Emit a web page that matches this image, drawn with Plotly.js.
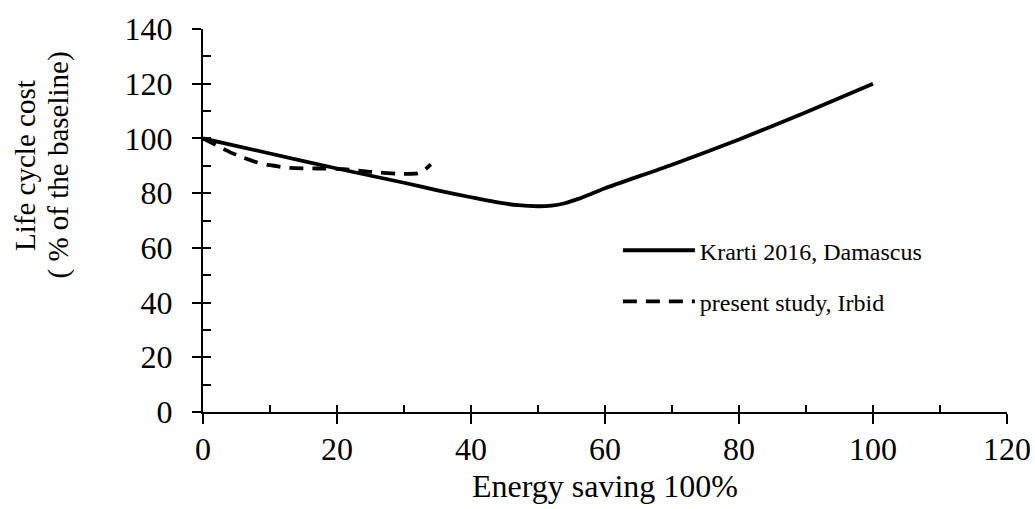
<!DOCTYPE html>
<html>
<head>
<meta charset="utf-8">
<script src="https://cdn.plot.ly/plotly-3.0.1.min.js"></script>
<style>html,body{margin:0;padding:0;background:#fff}</style>
</head>
<body>
<div id="chart" style="width:1035px;height:509px"></div>
<script>
// Krarti 2016, Damascus: life cycle cost vs energy saving
const krartiSaving = [0, 10, 20, 30, 35, 40, 44, 47, 50, 52, 54, 56, 58, 60, 70, 80, 90, 100];
const krartiCost   = [100, 94.5, 89, 83.8, 81, 78.5, 76.6, 75.6, 75.2, 75.4, 76.3, 77.9, 79.8, 81.8, 90.4, 99.6, 109.6, 120];

// Present study, Irbid
const irbidSaving = [0, 2, 4, 6, 8, 10, 13, 17, 21, 25, 29, 32, 33, 34];
const irbidCost   = [100, 97.5, 95, 93, 91.3, 90.2, 89.2, 89, 88.8, 87.8, 87.1, 87.2, 88.3, 90.5];

// Axis ticks
const xMajor = [0, 20, 40, 60, 80, 100, 120];
const xMinor = [10, 30, 50, 70, 90, 110];
const yMajor = [0, 20, 40, 60, 80, 100, 120, 140];
const yMinor = [10, 30, 50, 70, 90, 110, 130];

const seriesNames = ['Krarti 2016, Damascus', 'present study, Irbid'];
const xTitle = 'Energy saving 100%';
const yTitleLines = ['Life cycle cost', '( % of the baseline)'];

const FONT = '"Liberation Serif", "Times New Roman", Times, serif';

// invisible anchor point so an overlay axis is laid out and drawn
const axisHelper = (xa, ya) => ({
  x: [0], y: [0], xaxis: xa, yaxis: ya, mode: 'markers',
  marker: {opacity: 0, size: 1}, showlegend: false, hoverinfo: 'skip'
});

const traces = [
  {
    x: krartiSaving, y: krartiCost, name: seriesNames[0],
    mode: 'lines', legendgroup: 'a',
    line: {color: '#000', width: 3.8, shape: 'spline', smoothing: 0.6}
  },
  {
    x: irbidSaving, y: irbidCost, name: seriesNames[1],
    mode: 'lines', legendgroup: 'b',
    line: {color: '#000', width: 3.8, dash: '14px,9px', shape: 'spline', smoothing: 0.5}
  },
  axisHelper('x2', 'y'),
  axisHelper('x', 'y2')
];

const axisBase = {
  showgrid: false, zeroline: false,
  tickcolor: '#000', tickwidth: 2, fixedrange: true
};

const layout = {
  width: 1035, height: 509,
  margin: {l: 203, r: 28, t: 29, b: 97},
  paper_bgcolor: '#fff', plot_bgcolor: '#fff',
  font: {family: FONT, color: '#000', size: 32},
  showlegend: true,
  legend: {
    x: 0.516, y: 0.48, xanchor: 'left', yanchor: 'top',
    font: {family: FONT, size: 24, color: '#000'},
    bgcolor: 'rgba(0,0,0,0)', itemwidth: 72,
    tracegroupgap: 17, traceorder: 'grouped'
  },
  xaxis: Object.assign({}, axisBase, {
    range: [0, 120], tickvals: xMajor,
    showline: true, linecolor: '#000', linewidth: 2,
    ticks: 'outside', ticklen: 10,
    minor: {tickvals: xMinor, ticks: 'inside', ticklen: 7, tickwidth: 2, tickcolor: '#000'},
    tickfont: {family: FONT, size: 32},
    ticklabelstandoff: -2,
    title: {text: xTitle, font: {family: FONT, size: 32}, standoff: 8}
  }),
  xaxis2: Object.assign({}, axisBase, {
    overlaying: 'x', anchor: 'y', range: [0, 120], tickvals: xMajor,
    ticks: 'inside', ticklen: 7, showticklabels: false, showline: false
  }),
  yaxis: Object.assign({}, axisBase, {
    range: [0, 140], tickvals: yMajor,
    showline: true, linecolor: '#000', linewidth: 2,
    ticks: 'outside', ticklen: 9,
    minor: {tickvals: yMinor, ticks: 'inside', ticklen: 8, tickwidth: 2, tickcolor: '#000'},
    tickfont: {family: FONT, size: 32},
    ticklabelstandoff: 13
  }),
  yaxis2: Object.assign({}, axisBase, {
    overlaying: 'y', anchor: 'x', range: [0, 140], tickvals: yMajor,
    ticks: 'inside', ticklen: 8, showticklabels: false, showline: false
  }),
  annotations: [
    {
      text: yTitleLines[0], textangle: -90, showarrow: false,
      xref: 'paper', yref: 'paper', x: -0.2214, y: 0.645,
      xanchor: 'center', yanchor: 'middle',
      font: {family: FONT, size: 29, color: '#000'}
    },
    {
      text: yTitleLines[1], textangle: -90, showarrow: false,
      xref: 'paper', yref: 'paper', x: -0.1797, y: 0.645,
      xanchor: 'center', yanchor: 'middle',
      font: {family: FONT, size: 29, color: '#000'}
    }
  ]
};

Plotly.newPlot('chart', traces, layout, {displayModeBar: false, staticPlot: true});
</script>
</body>
</html>
